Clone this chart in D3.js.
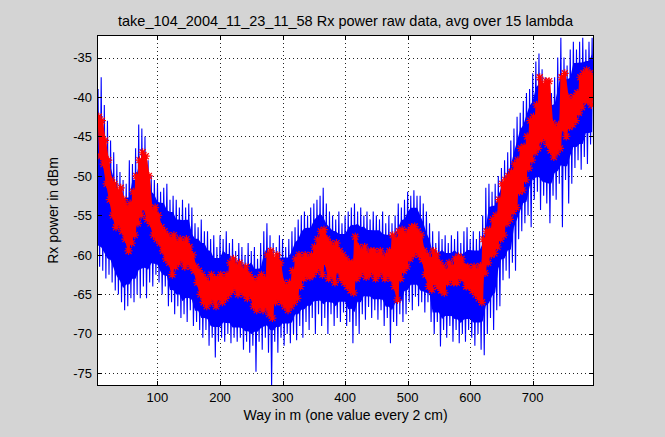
<!DOCTYPE html>
<html><head><meta charset="utf-8">
<script src="https://cdn.jsdelivr.net/npm/d3@7"></script>
<style>html,body{margin:0;padding:0;background:#d4d4d4;} svg{display:block}</style>
</head><body><svg id="c" width="665" height="437"></svg>
<script>
const titleText = "take_104_2004_11_23_11_58 Rx power raw data, avg over 15 lambda";
const xLabelText = "Way in m (one value every 2 cm)";
const yLabelText = "Rx power in dBm";
const xTicks = [100, 200, 300, 400, 500, 600, 700];
const yTicks = [-75, -70, -65, -60, -55, -50, -45, -40, -35];
const wayStart = 5, wayStep = 5; // metres, sampling grid of the values

// raw data (blue): local peaks and dips, one pair per 5 m
const blueHigh = [
 -39, -37.5, -41, -43, -45.5, -47, -48.5, -49.5, -50.5, -51,
 -48, -48.5, -46.5, -43.5, -44, -45, -48, -50, -50.5, -51,
 -52, -51.5, -51, -53, -52.5, -53, -54, -53, -54, -53.5,
 -54, -56, -56.5, -55.5, -57, -57, -58, -57.5, -59, -57.5,
 -58, -57, -58.5, -58, -59.5, -58.5, -59, -60, -58.5, -59.5,
 -59, -60.5, -58.5, -57, -56, -57.5, -58.5, -59, -57.5, -58,
 -59, -58, -57, -56.5, -55.5, -55, -54.5, -55, -54, -53.5,
 -53, -52.5, -51.5, -53.5, -54.5, -55, -55.5, -54.5, -56, -55,
 -54.5, -54, -53.5, -54.5, -54, -55, -54.5, -55.5, -54.5, -55,
 -55.5, -54.5, -56, -55, -56, -55, -53.5, -54, -53, -52,
 -52.5, -51.8, -52.5, -52.5, -53.5, -54.5, -56, -57, -58.5, -57,
 -58, -57.5, -58.5, -57.5, -58, -57, -58.5, -57, -56.5, -58,
 -57, -58, -57, -55, -51.5, -51, -52, -51, -50, -49,
 -48, -47, -45.5, -44, -42.5, -42, -40.5, -39.5, -39, -37,
 -35.5, -34.5, -36.5, -37.5, -38.5, -39.5, -37.5, -35, -32.5, -35,
 -36, -34, -33, -34, -33, -32.5, -34, -33, -32.5
];
const blueLow = [
 -61.5, -62, -63, -62.5, -63.5, -64.5, -65, -66, -67, -66.5,
 -65.5, -66, -65, -65.5, -64, -65.5, -63.5, -64, -62.5, -63.5,
 -65, -64, -66.5, -66, -67.5, -66.5, -68, -67.5, -68.5, -67,
 -69, -68.5, -69.5, -70.5, -69.5, -71.5, -70.5, -73, -71, -70.5,
 -71, -70, -71.2, -70.5, -71, -70.5, -72, -71, -72.4, -71.5,
 -74.8, -71, -72, -70.5, -72.4, -76.7, -71, -72.4, -70.5, -71.5,
 -70, -71.2, -70, -70.8, -69, -70.5, -68.5, -69.5, -68, -70,
 -67.5, -69, -68, -70, -67.5, -69, -68, -68.5, -67.3, -69,
 -68.5, -71.2, -69, -70, -67.5, -68.2, -66.6, -68, -67, -68.2,
 -67, -69, -68, -71.2, -68.5, -69, -67.5, -68.5, -67.5, -66,
 -67, -65.3, -66.5, -66, -67.3, -66, -68.5, -70, -68.5, -71.6,
 -69.5, -70.5, -69, -71, -69.5, -71.2, -70, -71, -69.5, -70.5,
 -71.5, -70, -72, -72.7, -70, -68, -69.5, -67, -66.5, -63.2,
 -62, -63, -61, -62, -58, -57, -56, -55, -56.5, -53,
 -52, -54.3, -52.5, -53.5, -56, -52.5, -53, -51, -56.5, -50.5,
 -53.5, -51, -49, -48, -49.2, -47.6, -48.5, -46, -47.5
];
// average over 15 lambda (red): upper and lower excursions per 5 m
const redHigh = [
 -42.5, -43, -45.5, -48, -50.5, -51, -52, -51.5, -53, -54,
 -53.5, -52, -50, -48, -47, -47.5, -50, -54.5, -54, -55,
 -56.5, -57, -57.5, -58, -57.5, -58.5, -58, -58.5, -58, -59,
 -60, -61.5, -62, -62.5, -63, -63.5, -62.5, -63, -63, -62.5,
 -63, -62.5, -61, -60.5, -61.5, -61, -62, -61.5, -62.5, -63,
 -63.5, -63, -62.5, -63, -60, -59.5, -60.5, -60, -61, -63.5,
 -64, -63.5, -62, -60.5, -60, -60.5, -60, -60.5, -60, -59,
 -58, -57, -56.8, -58, -58.5, -59, -58.5, -59.5, -60, -60.5,
 -61, -61, -57.7, -59, -59.5, -59, -60, -59.5, -59.5, -60,
 -59.5, -60.5, -60, -59.5, -57.5, -58, -57, -56.8, -57.5, -57,
 -56.5, -56.4, -57, -57.5, -59.5, -60, -60.5, -59.5, -60, -61,
 -61.5, -62, -61, -61.5, -60.5, -60.2, -60.5, -61.5, -61.5, -62,
 -61.5, -62, -61.4, -58, -57, -56.8, -55.5, -55, -53, -51,
 -50.5, -50, -49.5, -48.5, -48, -46.5, -46.3, -45, -43, -42.5,
 -41, -37.5, -38.5, -38, -38, -43.3, -44, -43.5, -37.5, -37,
 -40, -40.5, -40, -39.5, -37.5, -37, -36.6, -37, -37.5
];
const redLow = [
 -47.5, -48.5, -51, -53, -55, -56.5, -56, -57, -58, -59.5,
 -58.5, -57.5, -56, -55, -54, -55.5, -56, -57.5, -58, -58.5,
 -59.5, -60.5, -61, -62.5, -61.5, -61, -60.5, -61.5, -61, -61.5,
 -62, -63.5, -65, -66, -66.5, -66, -65.5, -66.5, -65.5, -66,
 -65.5, -65, -64.5, -64, -65, -64.5, -65, -65.5, -65, -66.5,
 -67, -66.5, -67, -66.5, -67.5, -68, -66, -65.5, -66, -66.5,
 -67, -66.5, -66, -65.5, -64, -63, -62.5, -62.8, -62.5, -62,
 -61.5, -62.5, -61, -63, -62.5, -63.5, -62, -63, -63.5, -64,
 -64.5, -64.8, -63, -62.5, -62, -62.8, -62.5, -62, -63, -62.5,
 -62, -63, -62.5, -63, -64, -65.7, -63, -62, -61.5, -60.5,
 -60, -59.5, -60, -60.6, -62.5, -64, -64.4, -63.5, -64, -64.5,
 -64.8, -63.5, -63, -63.5, -63.5, -62.8, -63, -64, -64, -64.5,
 -65, -65.5, -66, -62.3, -61, -60, -59.8, -59, -58, -57.5,
 -56, -55.5, -54.5, -54, -52, -51.8, -50.5, -49, -48, -47,
 -46.5, -45.5, -45, -46, -46.8, -47.6, -47, -46.5, -44, -45,
 -43.8, -43.5, -43, -42, -41.3, -40.5, -40.5, -41, -40
];

const svg = d3.select("#c");
const L = 97, T = 35, R = 594, B = 386;
const x = d3.scaleLinear().domain([3.3, 798]).range([L, R]);
const y = d3.scaleLinear().domain([-76.6, -32.15]).range([B, T]);
const font = "'Liberation Sans', Arial, Helvetica, sans-serif";

svg.append("rect").attr("width", 665).attr("height", 437).attr("fill", "#d4d4d4");
svg.append("rect").attr("x", L).attr("y", T).attr("width", R - L).attr("height", B - T).attr("fill", "#fff");

svg.append("defs").append("clipPath").attr("id", "clip")
  .append("rect").attr("x", L).attr("y", T).attr("width", R - L).attr("height", B - T);

// grid
const grid = svg.append("g").attr("stroke", "#222").attr("stroke-width", 1)
  .attr("stroke-dasharray", "1,3").attr("shape-rendering", "crispEdges");
xTicks.forEach(t => grid.append("line").attr("x1", Math.round(x(t)) + 0.5).attr("x2", Math.round(x(t)) + 0.5).attr("y1", T).attr("y2", B));
yTicks.forEach(t => grid.append("line").attr("y1", Math.round(y(t)) + 0.5).attr("y2", Math.round(y(t)) + 0.5).attr("x1", L).attr("x2", R));

// data
const plot = svg.append("g").attr("clip-path", "url(#clip)");
const line = d3.line().x(d => x(d[0])).y(d => y(d[1]));

// blue raw data: solid core inside the envelopes, plus the zig-zag for the spikes
const blueRows = blueHigh.map((v, i) => ({ m: wayStart + i * wayStep, hi: v, lo: blueLow[i] }));
const bandArea = d3.area().x(d => x(d.m)).y0(d => y(d.lo)).y1(d => y(d.hi));
const blueCore = blueRows.map((d, i, a) => {
  const n = a[Math.min(i + 1, a.length - 1)], p = a[Math.max(i - 1, 0)];
  const hi = Math.min(d.hi, p.hi, n.hi), lo = Math.max(d.lo, p.lo, n.lo);
  const inset = 0.12 * (hi - lo);
  return { m: d.m, hi: hi - inset, lo: lo + inset };
});
plot.append("path").attr("d", bandArea(blueCore)).attr("fill", "#0000ff");
const bluePts = [];
blueRows.forEach(d => { bluePts.push([d.m, d.hi]); bluePts.push([d.m + wayStep / 2, d.lo]); });
plot.append("path").attr("d", line(bluePts)).attr("fill", "none").attr("stroke", "#0000ff").attr("stroke-width", 1.1);

// red average: band + star markers
const redRows = redHigh.map((v, i) => ({ m: wayStart + i * wayStep + 2.5, hi: v, lo: redLow[i] }));
plot.append("path").attr("d", bandArea(redRows)).attr("fill", "#ff0000");
const redPts = [];
redRows.forEach(d => { redPts.push([d.m - 1.25, d.hi]); redPts.push([d.m + 1.25, d.lo]); });
plot.append("path").attr("d", line(redPts)).attr("fill", "none").attr("stroke", "#ff0000").attr("stroke-width", 2.5);
plot.append("g").selectAll("path").data(redPts).join("path")
  .attr("transform", d => `translate(${x(d[0])},${y(d[1])})`)
  .attr("d", "M-4,0H4M0,-4V4M-3,-3L3,3M-3,3L3,-3")
  .attr("stroke", "#ff0000").attr("stroke-width", 1.2).attr("fill", "none");

// axes box and ticks
const ax = svg.append("g").attr("stroke", "#000").attr("stroke-width", 1).attr("shape-rendering", "crispEdges");
ax.append("rect").attr("x", L + 0.5).attr("y", T + 0.5).attr("width", R - L - 1).attr("height", B - T - 1).attr("fill", "none");
xTicks.forEach(t => {
  const px = Math.round(x(t)) + 0.5;
  ax.append("line").attr("x1", px).attr("x2", px).attr("y1", B).attr("y2", B - 5);
  ax.append("line").attr("x1", px).attr("x2", px).attr("y1", T).attr("y2", T + 5);
});
yTicks.forEach(t => {
  const py = Math.round(y(t)) + 0.5;
  ax.append("line").attr("y1", py).attr("y2", py).attr("x1", L).attr("x2", L + 5);
  ax.append("line").attr("y1", py).attr("y2", py).attr("x1", R).attr("x2", R - 5);
});

// tick labels
const txt = svg.append("g").attr("font-family", font).attr("fill", "#000");
xTicks.forEach(t => txt.append("text").attr("x", x(t)).attr("y", 401.5).attr("text-anchor", "middle").attr("font-size", 13).text(t));
yTicks.forEach(t => txt.append("text").attr("x", 92).attr("y", y(t) + 4.6).attr("text-anchor", "end").attr("font-size", 13).text(t));

txt.append("text").attr("x", (L + R) / 2).attr("y", 420).attr("text-anchor", "middle").attr("font-size", 14).text(xLabelText);
txt.append("text").attr("transform", `translate(58,${(T + B) / 2}) rotate(-90)`).attr("text-anchor", "middle").attr("font-size", 14).text(yLabelText);
txt.append("text").attr("x", (L + R) / 2).attr("y", 26).attr("text-anchor", "middle").attr("font-size", 14.5).text(titleText);
</script></body></html>
